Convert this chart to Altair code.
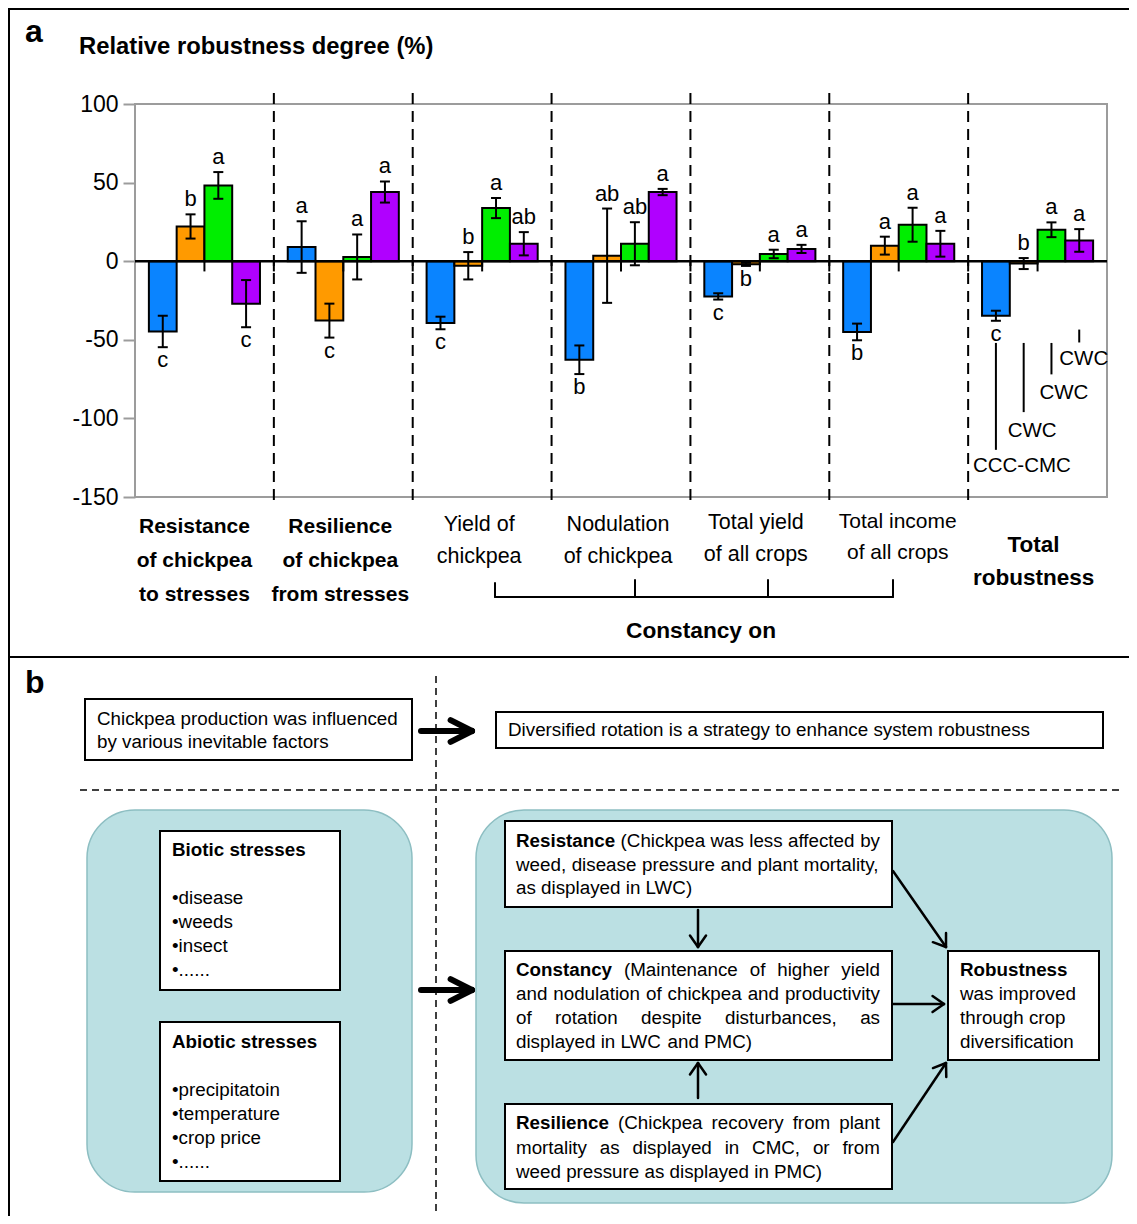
import math
import altair as alt
import pandas as pd

# ------------------------------------------------------------------ data
group_lines = [
    ["Resistance", "of chickpea", "to stresses"],
    ["Resilience", "of chickpea", "from stresses"],
    ["Yield of", "chickpea"],
    ["Nodulation", "of chickpea"],
    ["Total yield", "of all crops"],
    ["Total income", "of all crops"],
    ["Total", "robustness"],
]
group_bold = [True, True, False, False, False, False, True]

series_keys = ["S1", "S2", "S3", "S4"]
series_labels = ["CCC-CMC", "CWC", "CWC", "CWC"]
series_colors = ["#0A84FF", "#FF9A00", "#00EE00", "#B000FF"]

blue_vals = [-44.7, 9.0, -39.3, -62.7, -22.4, -45.0, -34.7]
orange_vals = [22.1, -37.8, -2.9, 3.5, -2.0, 9.9, -1.5]
green_vals = [48.2, 2.7, 33.8, 11.1, 4.6, 23.2, 20.0]
purple_vals = [-27.0, 44.0, 11.1, 44.0, 7.8, 11.1, 13.2]

blue_err = [10.0, 16.4, 4.0, 9.1, 2.0, 5.3, 3.2]
orange_err = [7.7, 10.8, 8.7, 30.0, 1.0, 5.7, 3.5]
green_err = [8.5, 14.3, 6.4, 13.7, 2.7, 10.8, 4.7]
purple_err = [15.0, 6.7, 7.4, 2.0, 2.6, 8.2, 7.2]

blue_let = ["c", "a", "c", "b", "c", "b", "c"]
orange_let = ["b", "c", "b", "ab", "b", "a", "b"]
green_let = ["a", "a", "a", "ab", "a", "a", "a"]
purple_let = ["c", "a", "ab", "a", "a", "a", "a"]

blue_up = [False, True, False, False, False, False, False]
orange_up = [True, False, True, True, False, True, True]
green_up = [True, True, True, True, True, True, True]
purple_up = [False, True, True, True, True, True, True]

y_ticks = [-150, -100, -50, 0, 50, 100]

# ------------------------------------------------------------------ layout
SANS = "Liberation Sans"
OX, OY = 135, 104          # page position of the plot area
PLOT_W, PLOT_H = 972, 393
GW = PLOT_W / 7.0
BAR_W = 0.2

XS = alt.Scale(domain=[0, 7], nice=False, zero=False)
YS = alt.Scale(domain=[-150, 100], nice=False, zero=False)
YAX = alt.Axis(values=y_ticks, labelFont=SANS, labelFontSize=23, labelColor="black",
               tickColor="#9C9C9C", tickSize=12, tickWidth=2, labelPadding=5,
               domain=False, grid=False, title=None, labelExpr="'' + datum.value")


def YD(field):
    return alt.Y(field, scale=YS, axis=YAX, title=None)


def XD(field):
    return alt.X(field, scale=XS, axis=None)


all_vals = [blue_vals, orange_vals, green_vals, purple_vals]
all_err = [blue_err, orange_err, green_err, purple_err]
all_let = [blue_let, orange_let, green_let, purple_let]
all_up = [blue_up, orange_up, green_up, purple_up]

rows = []
for s in range(4):
    for g in range(7):
        v, e = all_vals[s][g], all_err[s][g]
        xc = g + 0.5 + (s - 1.5) * BAR_W
        up = all_up[s][g]
        rows.append(dict(key=series_keys[s], xc=xc, x0=xc - BAR_W / 2, x1=xc + BAR_W / 2,
                         v=v, zero=0.0, lo=v - e, hi=v + e,
                         cl=xc - 0.036, cr=xc + 0.036,
                         let=all_let[s][g], up=up, ly=(v + e) if up else (v - e)))
bars = pd.DataFrame(rows)
base = alt.Chart(bars)

bar_layer = base.mark_bar(stroke="black", strokeWidth=2).encode(
    x=XD("x0:Q"), x2="x1:Q", y=YD("v:Q"), y2="zero:Q",
    color=alt.Color("key:N", scale=alt.Scale(domain=series_keys, range=series_colors), legend=None))

# zero-line ticks and dashed group separators
zt = pd.DataFrame({"x": [0.5 * i for i in range(1, 14)], "y": 0.0, "y2": -6.5})
zero_ticks = alt.Chart(zt).mark_rule(color="black", strokeWidth=2).encode(
    x=XD("x:Q"), y=YD("y:Q"), y2="y2:Q")
sep = pd.DataFrame({"x": [1, 2, 3, 4, 5, 6], "y": 107.0, "y2": -155.0})
separators = alt.Chart(sep).mark_rule(color="black", strokeWidth=2, strokeDash=[11, 7]).encode(
    x=XD("x:Q"), y=YD("y:Q"), y2="y2:Q")

zl = pd.DataFrame({"x": [0.0], "x2": [7.0], "y": [0.0]})
zero_line = alt.Chart(zl).mark_rule(color="black", strokeWidth=2.5).encode(
    x=XD("x:Q"), x2="x2:Q", y=YD("y:Q"))

err_v = base.mark_rule(color="black", strokeWidth=2).encode(x=XD("xc:Q"), y=YD("lo:Q"), y2="hi:Q")
cap_lo = base.mark_rule(color="black", strokeWidth=2).encode(x=XD("cl:Q"), x2="cr:Q", y=YD("lo:Q"))
cap_hi = base.mark_rule(color="black", strokeWidth=2).encode(x=XD("cl:Q"), x2="cr:Q", y=YD("hi:Q"))

let_up = base.transform_filter("datum.up").mark_text(
    font=SANS, fontSize=22, baseline="alphabetic", dy=-8, color="black").encode(
    x=XD("xc:Q"), y=YD("ly:Q"), text="let:N")
let_dn = base.transform_filter("!datum.up").mark_text(
    font=SANS, fontSize=22, baseline="top", dy=3, color="black").encode(
    x=XD("xc:Q"), y=YD("ly:Q"), text="let:N")

# series call-outs under the last group
ann_top = [-52, -52, -52, -43.5]
ann_bot = [-120, -96, -72, -51.7]
ann_lab_y = [-130, -108, -84, -62.5]
ann_lab_dx = [-23, -16, -12, -20]
ann = pd.DataFrame({
    "x": [6.5 + (s - 1.5) * BAR_W for s in range(4)],
    "top": ann_top, "bot": ann_bot, "ly": ann_lab_y,
    "lx": [6.5 + (s - 1.5) * BAR_W + ann_lab_dx[s] / GW for s in range(4)],
    "t": series_labels})
ann_rules = alt.Chart(ann).mark_rule(color="black", strokeWidth=2).encode(
    x=XD("x:Q"), y=YD("top:Q"), y2="bot:Q")
ann_text = alt.Chart(ann).mark_text(font=SANS, fontSize=20.5, align="left", baseline="middle",
                                    color="black").encode(
    x=XD("lx:Q"), y=YD("ly:Q"), text="t:N")

# category labels under the plot (x from the data scale, y in pixels)
cat_dx = [-10, -3, -3, -3, -4, -1, -4]
cat_y = [[527, 561, 595], [527, 561, 595], [525, 557], [525, 557], [523, 555], [522, 553], [545, 578]]
cat_fs = [21, 21, 21.5, 21.5, 21.5, 21, 22.5]
crow = []
for g in range(7):
    for line, yy in zip(group_lines[g], cat_y[g]):
        crow.append(dict(gx=g + 0.5 + cat_dx[g] / GW, py=yy - OY, t=line, fs=cat_fs[g], b=group_bold[g]))
cdf = pd.DataFrame(crow)
cat_layers = []
for b, sub in cdf.groupby("b"):
    cat_layers.append(alt.Chart(sub.drop(columns=["b"])).mark_text(
        font=SANS, fontWeight="bold" if b else "normal", align="center", baseline="middle",
        color="black").encode(
        x=XD("gx:Q"), y=alt.Y("py:Q", scale=None, axis=None),
        text="t:N", size=alt.Size("fs:Q", scale=None, legend=None)))

# ------------------------------------------------------------------ pixel layout helpers
REG = dict(zip("abcdefghijklmnopqrstuvwxyz",
               [556, 556, 500, 556, 556, 278, 556, 556, 222, 222, 500, 222, 833, 556, 556, 556, 556,
                333, 500, 278, 556, 500, 722, 500, 500, 500]))
REG.update({" ": 278, ",": 278, ".": 278, "(": 333, ")": 333, "C": 722, "L": 556, "M": 833,
            "P": 667, "W": 944, "-": 333})
BOLD = dict(zip("abcdefghijklmnopqrstuvwxyz",
                [556, 611, 556, 611, 556, 333, 611, 611, 278, 278, 556, 278, 889, 611, 611, 611, 611,
                 389, 556, 333, 611, 556, 778, 556, 556, 500]))
BOLD.update({" ": 278, "R": 722, "C": 722, "B": 722, "A": 722})


def tw(s, fs, bold=False):
    tb = BOLD if bold else REG
    return sum(tb.get(c, 556) for c in s) * fs / 1000.0


texts = []


def add_text(x, y, t, fs, font=SANS, weight="normal", align="left", baseline="middle"):
    texts.append(dict(px=x - OX, py=y - OY, t=t, fs=fs, font=font, weight=weight,
                      align=align, baseline=baseline))


def paragraph(x0, x1, ys, lines, fs, justify=True):
    for i, (yy, line) in enumerate(zip(ys, lines)):
        toks = line.split(" ")
        words = [(w[1:], True) if w.startswith("*") else (w, False) for w in toks]
        widths = [tw(w, fs, b) for w, b in words]
        last = (i == len(lines) - 1) or not justify or len(words) == 1
        gap = tw(" ", fs) if last else (x1 - x0 - sum(widths)) / (len(words) - 1)
        x = x0
        for (w, b), wd in zip(words, widths):
            add_text(x, yy, w, fs, weight="bold" if b else "normal")
            x += wd + gap


segs = []


def add_seg(x0, y0, x1, y1, w=2.0, dash=False):
    segs.append(dict(px=x0 - OX, py=y0 - OY, px2=x1 - OX, py2=y1 - OY, w=w, dash=dash))


def add_arrow(x0, y0, x1, y1, w, head, ang):
    add_seg(x0, y0, x1, y1, w)
    th = math.atan2(y1 - y0, x1 - x0)
    for sgn in (1, -1):
        a = th + math.pi + sgn * math.radians(ang)
        add_seg(x1, y1, x1 + head * math.cos(a), y1 + head * math.sin(a), w)


boxes, panels = [], []


def add_box(x0, y0, x1, y1, lst):
    lst.append(dict(px=x0 - OX, py=y0 - OY, px2=x1 - OX, py2=y1 - OY))


FS = 18.8
# frame of the figure
add_seg(9, 8, 9, 1224, 2)
add_seg(8, 9, 1137, 9, 2)
add_seg(8, 657, 1137, 657, 2)
# panel a titles
add_text(25, 42, "a", 32, weight="bold", baseline="alphabetic")
add_text(79, 47, "Relative robustness degree (%)", 23.8, weight="bold")
# bracket "Constancy on"
add_seg(495, 597, 893, 597, 2)
for bx, by in [(495, 583), (635, 580), (768, 580), (893, 580)]:
    add_seg(bx, by, bx, 597, 2)
add_text(701, 631, "Constancy on", 22.7, weight="bold", align="center")

# panel b
add_text(25, 693, "b", 32, weight="bold", baseline="alphabetic")
add_seg(436, 676, 436, 1224, 1.5, dash=True)
add_seg(80, 790, 1120, 790, 1.5, dash=True)
add_box(85, 699, 412, 760, boxes)
add_text(97, 719, "Chickpea production was influenced", FS)
add_text(97, 742, "by various inevitable factors", FS)
add_arrow(421, 731, 472, 731, 6, 24, 27)
add_box(496, 712, 1103, 748, boxes)
add_text(508, 730, "Diversified rotation is a strategy to enhance system robustness", FS)

add_box(87, 810, 412, 1192, panels)
add_box(476, 810, 1112, 1203, panels)

add_box(160, 831, 340, 990, boxes)
add_text(172, 850, "Biotic stresses", FS, weight="bold")
for yy, t in zip([898, 922, 946, 970], ["\u2022disease", "\u2022weeds", "\u2022insect", "\u2022......"]):
    add_text(172, yy, t, FS)
add_box(160, 1022, 340, 1181, boxes)
add_text(172, 1042, "Abiotic stresses", FS, weight="bold")
for yy, t in zip([1090, 1114, 1138, 1162],
                 ["\u2022precipitatoin", "\u2022temperature", "\u2022crop price", "\u2022......"]):
    add_text(172, yy, t, FS)
add_arrow(421, 990, 472, 990, 6, 24, 27)

add_box(505, 821, 892, 907, boxes)
paragraph(516, 880, [841, 864.5, 888],
          ["*Resistance (Chickpea was less affected by",
           "weed, disease pressure and plant mortality,",
           "as displayed in LWC)"], FS)
add_box(505, 951, 892, 1060, boxes)
paragraph(516, 880, [970, 994, 1018, 1042],
          ["*Constancy (Maintenance of higher yield",
           "and nodulation of chickpea and productivity",
           "of rotation despite disturbances, as",
           "displayed in LWC and PMC)"], FS)
add_box(505, 1104, 892, 1189, boxes)
paragraph(516, 880, [1123, 1148, 1172],
          ["*Resilience (Chickpea recovery from plant",
           "mortality as displayed in CMC, or from",
           "weed pressure as displayed in PMC)"], FS)
add_box(948, 951, 1099, 1060, boxes)
paragraph(960, 1090, [970, 994, 1018, 1042],
          ["*Robustness", "was improved", "through crop", "diversification"], FS, justify=False)

add_arrow(698, 910, 698, 947, 2.5, 14, 35)
add_arrow(698, 1098, 698, 1063, 2.5, 14, 35)
add_arrow(893, 871, 946, 947, 2.5, 14, 35)
add_arrow(893, 1004, 944, 1004, 2.5, 14, 35)
add_arrow(893, 1142, 946, 1063, 2.5, 14, 35)

PX = alt.X("px:Q", scale=None, axis=None)
PY = alt.Y("py:Q", scale=None, axis=None)

panel_layer = alt.Chart(pd.DataFrame(panels)).mark_rect(
    cornerRadius=48, fill="#BBE0E3", stroke="#8DBEC2", strokeWidth=1.5).encode(
    x=PX, x2="px2:Q", y=PY, y2="py2:Q")
box_layer = alt.Chart(pd.DataFrame(boxes)).mark_rect(
    fill="white", stroke="black", strokeWidth=2).encode(x=PX, x2="px2:Q", y=PY, y2="py2:Q")

sdf = pd.DataFrame(segs)
solid_layer = alt.Chart(sdf[~sdf.dash].drop(columns=["dash"])).mark_rule(
    color="black", strokeCap="round").encode(
    x=PX, x2="px2:Q", y=PY, y2="py2:Q", strokeWidth=alt.StrokeWidth("w:Q", scale=None, legend=None))
dash_layer = alt.Chart(sdf[sdf.dash].drop(columns=["dash"])).mark_rule(
    color="black", strokeDash=[7, 5]).encode(
    x=PX, x2="px2:Q", y=PY, y2="py2:Q", strokeWidth=alt.StrokeWidth("w:Q", scale=None, legend=None))

tdf = pd.DataFrame(texts)
text_layers = []
for (font, weight, align, baseline), sub in tdf.groupby(["font", "weight", "align", "baseline"]):
    text_layers.append(alt.Chart(sub[["px", "py", "t", "fs"]]).mark_text(
        font=font, fontWeight=weight, align=align, baseline=baseline, color="black").encode(
        x=PX, y=PY, text="t:N", size=alt.Size("fs:Q", scale=None, legend=None)))

chart = alt.layer(
    bar_layer, panel_layer, box_layer, dash_layer,
    zero_ticks, separators, zero_line, err_v, cap_lo, cap_hi, let_up, let_dn,
    ann_rules, ann_text, *cat_layers, solid_layer, *text_layers,
).properties(
    width=PLOT_W, height=PLOT_H,
    autosize=alt.AutoSizeParams(type="none"),
    padding={"left": OX - 8, "top": OY - 8, "right": 1121 - (OX - 8) - PLOT_W,
             "bottom": 1208 - (OY - 8) - PLOT_H},
    background="white",
).configure_view(stroke="#9C9C9C", strokeWidth=2)

chart.save("out.html", embed_options={"renderer": "svg", "actions": False})
